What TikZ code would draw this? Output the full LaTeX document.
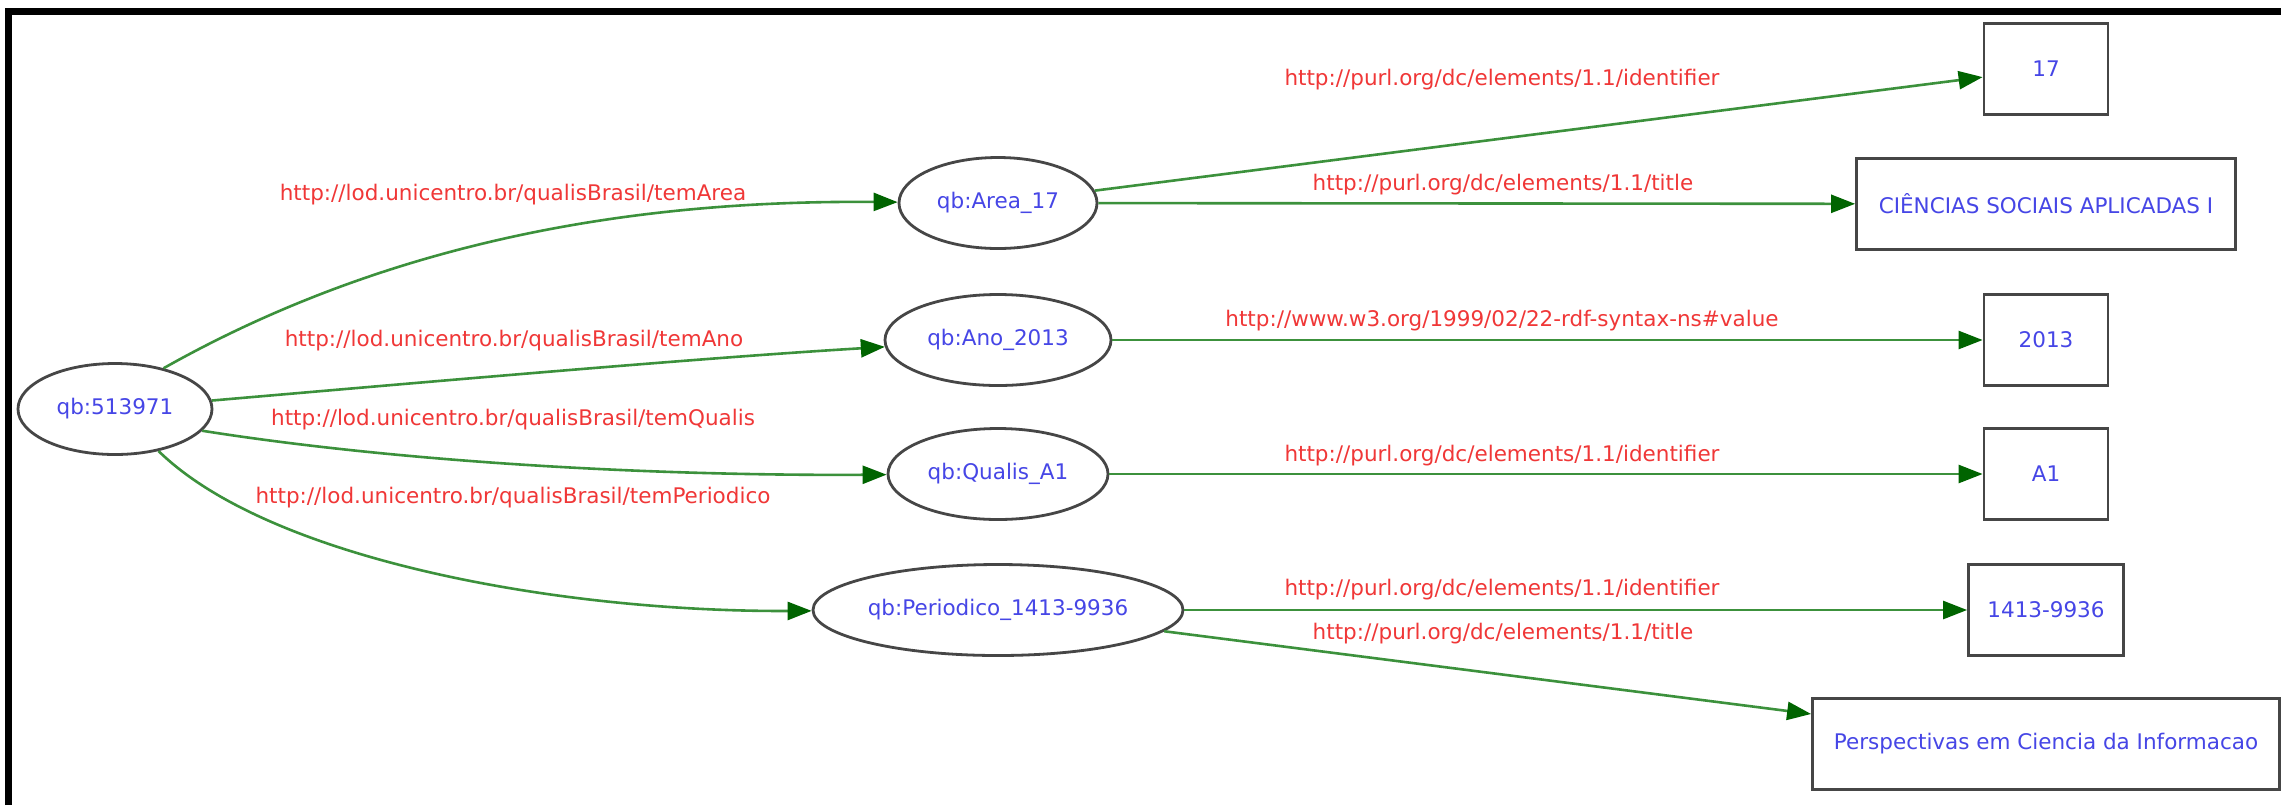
\documentclass[tikz,border=0pt]{standalone}
\usepackage{fontspec}
\setmainfont{DejaVu Sans}
\usetikzlibrary{arrows.meta,shapes.geometric}
\definecolor{nodeblue}{RGB}{70,70,230}
\definecolor{lblred}{RGB}{240,55,55}
\definecolor{edgegreen}{RGB}{60,145,60}
\definecolor{tipgreen}{RGB}{0,100,0}
\definecolor{bordergray}{RGB}{70,70,70}
\begin{document}
\begin{tikzpicture}[x=0.5pt,y=-0.5pt,
  font=\fontsize{10.75}{13}\selectfont,
  res/.style={ellipse,draw=bordergray,line width=1.4pt,text=nodeblue,minimum height=45.5pt,inner sep=0pt},
  lit/.style={rectangle,draw=bordergray,line width=1.4pt,text=nodeblue,minimum height=45.5pt,inner sep=0pt},
  prop/.style={text=lblred,inner sep=0pt},
  rel/.style={draw=edgegreen,line width=1.3pt,-{Triangle[length=12pt,width=9pt,color=tipgreen]}},
  frameline/.style={line width=3.5pt,black}]
\useasboundingbox (0,0) rectangle (2281,805);
\fill[white] (0,0) rectangle (2281,805);
\coordinate (fb) at (8.5,805);
\coordinate (fc) at (8.5,11.5);
\coordinate (fr) at (2281,11.5);
\draw[frameline] (fb) -- (fc) -- (fr);

% resource nodes
\node[res,minimum width=97pt] (src) at (115,409) {qb:513971};
\node[res,minimum width=99pt] (area) at (998,203) {qb:Area\_17};
\node[res,minimum width=113pt] (ano) at (998,340) {qb:Ano\_2013};
\node[res,minimum width=110pt] (qualis) at (998,474) {qb:Qualis\_A1};
\node[res,minimum width=185pt] (per) at (998,610) {qb:Periodico\_1413-9936};

% literal nodes
\node[lit,minimum width=62pt] (b17) at (2046,69) {17};
\node[lit,minimum width=189.5pt] (cs) at (2046,204) {CIÊNCIAS SOCIAIS APLICADAS I};
\node[lit,minimum width=62pt] (b2013) at (2046,340) {2013};
\node[lit,minimum width=62pt] (a1) at (2046,474) {A1};
\node[lit,minimum width=77.5pt] (b1413) at (2046,610) {1413-9936};
\node[lit,minimum width=233.5pt] (pers) at (2046,744) {Perspectivas em Ciencia da Informacao};

% edges
\draw[rel] (src.40) .. controls (400,235) and (650,200) .. (area);
\draw[rel] (src.5) .. controls (450,380) and (700,358) .. (ano);
\draw[rel] (src.-14) .. controls (400,462) and (650,476) .. (qualis);
\draw[rel] (src.-44) .. controls (270,560) and (560,612) .. (per);
\draw[rel] (area) -- (b17);
\draw[rel] (area) -- (cs);
\draw[rel] (ano) -- (b2013);
\draw[rel] (qualis) -- (a1);
\draw[rel] (per) -- (b1413);
\draw[rel] (per) -- (pers);

% edge labels
\node[prop] (l1) at (513,195) {http://lod.unicentro.br/qualisBrasil/temArea};
\node[prop] (l2) at (514,341) {http://lod.unicentro.br/qualisBrasil/temAno};
\node[prop] (l3) at (513,420) {http://lod.unicentro.br/qualisBrasil/temQualis};
\node[prop] (l4) at (513,498) {http://lod.unicentro.br/qualisBrasil/temPeriodico};
\node[prop] (l5) at (1502,80) {http://purl.org/dc/elements/1.1/identifier};
\node[prop] (l6) at (1503,185) {http://purl.org/dc/elements/1.1/title};
\node[prop] (l7) at (1502,321) {http://www.w3.org/1999/02/22-rdf-syntax-ns\#value};
\node[prop] (l8) at (1502,456) {http://purl.org/dc/elements/1.1/identifier};
\node[prop] (l9) at (1502,590) {http://purl.org/dc/elements/1.1/identifier};
\node[prop] (l10) at (1503,634) {http://purl.org/dc/elements/1.1/title};
\end{tikzpicture}
\end{document}
